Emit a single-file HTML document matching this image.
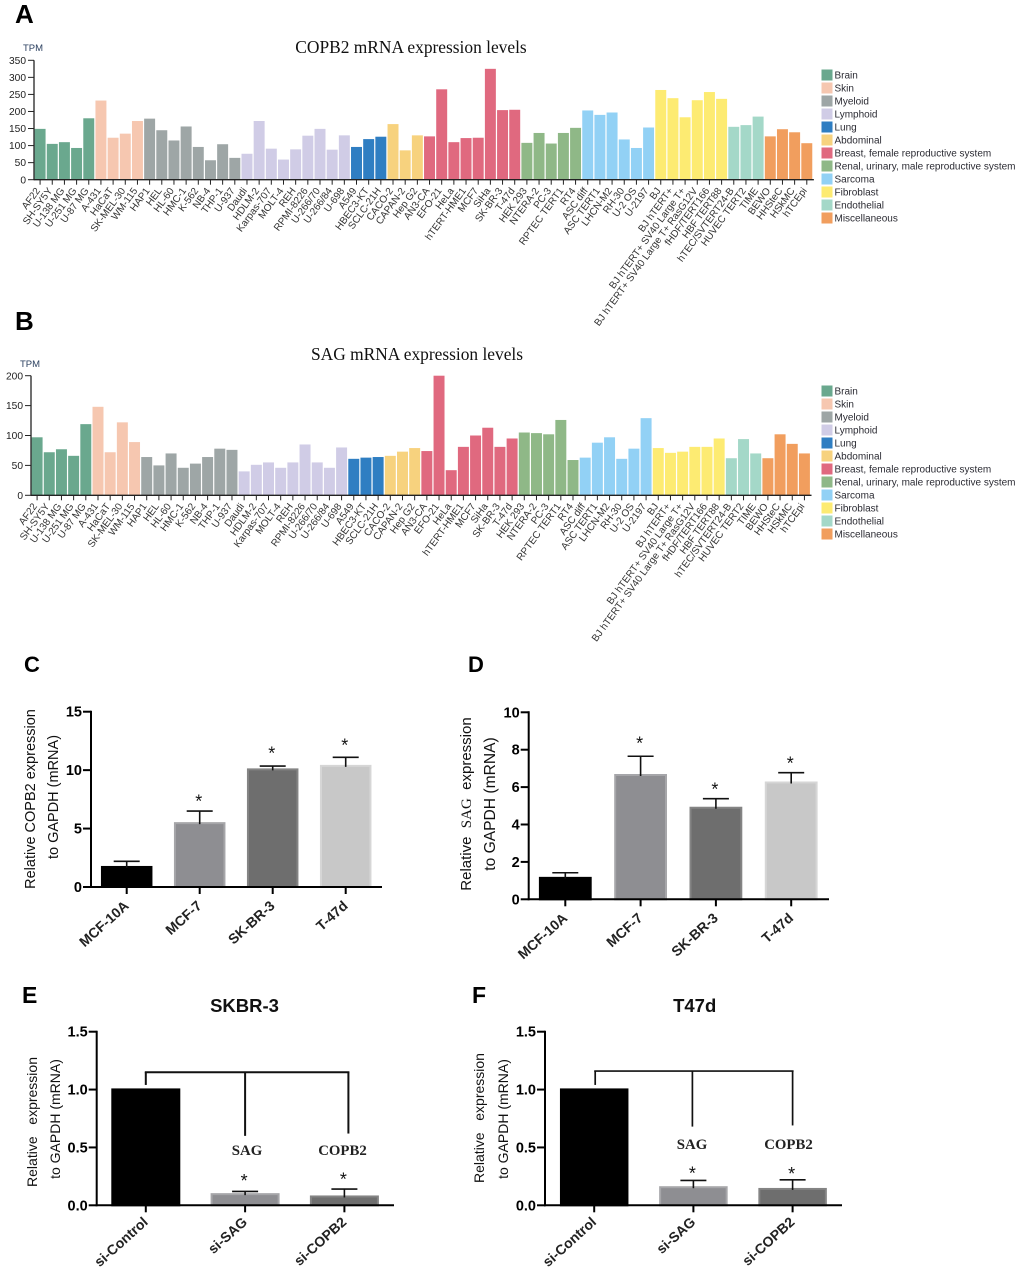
<!DOCTYPE html>
<html lang="en">
<head>
<meta charset="utf-8">
<title>COPB2 and SAG expression figure</title>
<style>
html,body{margin:0;padding:0;background:#fff;}
#figure{display:block;width:1020px;height:1269px;font-family:"Liberation Sans",sans-serif;}
.soft{filter:blur(0.35px);}
</style>
</head>
<body>
<svg id="figure" xmlns="http://www.w3.org/2000/svg" width="1020" height="1269" viewBox="0 0 1020 1269"></svg>
<script>
// ---------- Panels A / B data ----------
const cellLines = ["AF22","SH-SY5Y","U-138 MG","U-251 MG","U-87 MG","A-431","HaCaT","SK-MEL-30","WM-115","HAP1","HEL","HL-60","HMC-1","K-562","NB-4","THP-1","U-937","Daudi","HDLM-2","Karpas-707","MOLT-4","REH","RPMI-8226","U-266/70","U-266/84","U-698","A549","HBEC3-KT","SCLC-21H","CACO-2","CAPAN-2","Hep G2","AN3-CA","EFO-21","HeLa","hTERT-HME1","MCF7","SiHa","SK-BR-3","T-47d","HEK 293","NTERA-2","PC-3","RPTEC TERT1","RT4","ASC diff","ASC TERT1","LHCN-M2","RH-30","U-2 OS","U-2197","BJ","BJ hTERT+","BJ hTERT+ SV40 Large T+","BJ hTERT+ SV40 Large T+ RasG12V","fHDF/TERT166","HBF TERT88","hTEC/SVTERT24-B","HUVEC TERT2","TIME","BEWO","HHSteC","HSkMC","hTCEpi"];
const tissues = ["Brain","Skin","Myeloid","Lymphoid","Lung","Abdominal","Breast, female reproductive system","Renal, urinary, male reproductive system","Sarcoma","Fibroblast","Endothelial","Miscellaneous"];
const tissueCounts = [5,4,8,9,3,3,8,5,6,6,3,4];
const copb2Values = [149,105,110,93,180,232,123,135,172,179,145,115,156,96,57,104,64,76,172,91,59,89,129,149,88,130,96,119,126,163,86,130,127,265,110,122,123,325,204,205,108,137,106,137,152,203,190,197,118,93,153,263,239,183,233,257,237,155,160,185,127,148,139,107];
const sagValues = [97,72,77,66,119,148,72,122,89,64,50,70,46,53,64,78,76,40,51,55,46,55,85,55,46,80,61,63,64,66,73,79,74,200,42,81,100,113,81,95,105,104,102,126,59,63,88,97,61,78,129,79,71,73,81,81,95,62,94,70,62,102,86,70];
const copb2Ticks = [0,50,100,150,200,250,300,350];
const sagTicks = [0,50,100,150,200];

// ---------- Panels C-F data ----------
const cCategories = ["MCF-10A","MCF-7","SK-BR-3","T-47d"];
const cValues = [1.8,5.55,10.15,10.45];
const cErrorTops = [2.2,6.5,10.35,11.1];
const cStarLevels = [null,7.7,11.8,12.5];
const cTicks = [0,5,10,15];
const dCategories = ["MCF-10A","MCF-7","SK-BR-3","T-47d"];
const dValues = [1.2,6.7,4.95,6.3];
const dErrorTops = [1.42,7.65,5.38,6.77];
const dStarLevels = [null,8.57,6.11,7.5];
const dTicks = [0,2,4,6,8,10];
const eCategories = ["si-Control","si-SAG","si-COPB2"];
const eValues = [1.01,0.105,0.085];
const eErrorTops = [1.01,0.12,0.14];
const eStarLevels = [null,0.247,0.26];
const eTicks = ["0.0","0.5","1.0","1.5"];
const fCategories = ["si-Control","si-SAG","si-COPB2"];
const fValues = [1.01,0.165,0.15];
const fErrorTops = [1.01,0.215,0.22];
const fStarLevels = [null,0.314,0.31];
const fTicks = ["0.0","0.5","1.0","1.5"];

const tissueColors = ["#6aa88e","#f6c7b0","#9ea6a6","#d0cce6","#2f7ec2","#f7d27e","#e0697f","#8fb887","#92d1f5","#fdeb72","#a4d8c8","#f19e5e"];
const greyFills = ["#000000","#8e8e92","#6e6e6e","#c8c8c8"];
const greyEdges = ["#000000","#a6a6a9","#848484","#d6d6d6"];

const NS = "http://www.w3.org/2000/svg";
const root = document.getElementById("figure");

function mk(parent, tag, attrs, text) {
  const el = document.createElementNS(NS, tag);
  for (const k in attrs) el.setAttribute(k, attrs[k]);
  if (text !== undefined) el.textContent = text;
  parent.appendChild(el);
  return el;
}
function slug(s) {
  return String(s).toLowerCase().replace(/[^a-z0-9]+/g, '-').replace(/^-|-$/g, '');
}

// Panel letters
[["A",15,23,26],["B",15,330,26],["C",24,672,22],["D",468,672,22],["E",22,1003,23],["F",472,1003,23]].forEach(function (p) {
  const t = mk(root, "text", {x:p[1], y:p[2], "font-size":p[3], "font-weight":"bold", fill:"#000"}, p[0]);
  
  
});

function tpmChart(o) {
  const g = mk(root, "g", {"class":"soft"});
  
  
  const y = function (v) { return o.zeroY - (v / o.maxV) * (o.zeroY - o.topY); };
  const x = function (i) { return o.axisX + (i + 0.5) * o.step; };

  const title = mk(g, "text", {x:o.titleX, y:o.titleY, "text-anchor":"middle", "font-size":17.4, "font-family":'"Liberation Serif",serif', fill:"#111"}, o.title);
  
  
  const unit = mk(g, "text", {x:o.tpmX, y:o.tpmY, "font-size":9.5, fill:"#2a3f5f"}, "TPM");
  
  

  // bars
  let idx = 0;
  tissueCounts.forEach(function (count, ti) {
    for (let c = 0; c < count; c++, idx++) {
      const v = o.values[idx];
      const bar = mk(g, "rect", {x:(x(idx) - o.step / 2 + 0.6).toFixed(2), y:y(v).toFixed(2), width:(o.step - 1.2).toFixed(2), height:(o.zeroY - y(v)).toFixed(2), fill:tissueColors[ti]});
      
      
    }
  });

  // axes
  const yAxis = mk(g, "line", {x1:o.axisX, x2:o.axisX, y1:o.topY, y2:o.zeroY + 0.5, stroke:"#222", "stroke-width":1.3});
  
  
  const xAxis = mk(g, "line", {x1:o.axisX, x2:o.axisX + o.step * cellLines.length + 1, y1:o.zeroY, y2:o.zeroY, stroke:"#222", "stroke-width":1.3});
  
  

  o.ticks.forEach(function (t) {
    const ln = mk(g, "line", {x1:o.axisX - 6, x2:o.axisX, y1:y(t), y2:y(t), stroke:"#222", "stroke-width":1});
    
    
    const lb = mk(g, "text", {x:o.axisX - 8, y:y(t) + 3.6, "text-anchor":"end", "font-size":10.2, fill:"#222"}, t);
    
    
  });
  cellLines.forEach(function (name, i) {
    const ln = mk(g, "line", {x1:x(i), x2:x(i), y1:o.zeroY, y2:o.zeroY + 5, stroke:"#222", "stroke-width":1});
    
    
    const px = x(i) + 0.5, py = o.zeroY + 11;
    const lb = mk(g, "text", {x:px, y:py, "text-anchor":"end", "font-size":10, fill:"#333", transform:"rotate(-54 " + px + " " + py + ")"}, name);
    
    
  });

  // legend
  tissues.forEach(function (name, i) {
    const ly = o.legendY + i * 13;
    const entry = mk(g, "g", {});
    
    
    mk(entry, "rect", {x:821.5, y:ly - 5.5, width:11, height:11, fill:tissueColors[i]});
    mk(entry, "text", {x:834.5, y:ly + 3.4, "font-size":10, fill:"#2b2b33"}, name);
  });
}

tpmChart({id:"copb2", title:"COPB2 mRNA expression levels", titleX:411, titleY:53, tpmX:23, tpmY:51, axisX:34, topY:60.3, zeroY:179.7, maxV:350, step:12.17, values:copb2Values, ticks:copb2Ticks, legendY:75});
tpmChart({id:"sag", title:"SAG mRNA expression levels", titleX:417, titleY:360, tpmX:20, tpmY:367, axisX:31, topY:375.7, zeroY:495.3, maxV:200, step:12.18, values:sagValues, ticks:sagTicks, legendY:391});

function barChart(o) {
  const g = mk(root, "g", {});
  
  
  const y = function (v) { return o.zeroY - (v / o.maxV) * (o.zeroY - o.topY); };
  const x = function (i) { return o.firstX + i * o.pitch; };
  const sw = 2;

  // y-axis title (two lines)
  o.yTitle.forEach(function (line, li) {
    const px = line.x, py = line.y;
    const t = mk(g, "text", {x:px, y:py, "text-anchor":"middle", "font-size":line.size, fill:"#111", transform:"rotate(-90 " + px + " " + py + ")"});
    
    
    t.style.whiteSpace = 'pre';
    line.parts.forEach(function (part) {
      mk(t, "tspan", part.serif ? {"font-family":'"Liberation Serif",serif'} : {}, part.text);
    });
  });

  // bars, error bars and significance stars
  o.categories.forEach(function (name, i) {
    const v = o.values[i], top = y(v), w = o.barW;
    const bar = mk(g, "rect", {x:(x(i) - w / 2 + 1).toFixed(2), y:(top + 1).toFixed(2), width:(w - 2).toFixed(2), height:(o.zeroY - top - 1).toFixed(2), fill:greyFills[i], stroke:greyEdges[i], "stroke-width":2});
    
    
    const e = o.errorTops[i];
    if (e > v) {
      const ey = y(e);
      const stem = mk(g, "line", {x1:x(i), x2:x(i), y1:ey, y2:top + 2, stroke:"#111", "stroke-width":1.6});
      
      
      const cap = mk(g, "line", {x1:x(i) - o.capW / 2, x2:x(i) + o.capW / 2, y1:ey, y2:ey, stroke:"#111", "stroke-width":1.6});
      
      
    }
    if (o.starLevels[i] !== null) {
      const star = mk(g, "text", {x:x(i) - 1, y:(y(o.starLevels[i]) + 10.5).toFixed(2), "text-anchor":"middle", "font-size":18, fill:"#111"}, "*");
      
      
    }
  });

  // axes
  const yAxis = mk(g, "line", {x1:o.axisX, x2:o.axisX, y1:o.topY - 1, y2:o.zeroY + 1, stroke:"#000", "stroke-width":sw});
  
  
  const xAxis = mk(g, "line", {x1:o.axisX - 1, x2:o.rightX, y1:o.zeroY, y2:o.zeroY, stroke:"#000", "stroke-width":sw});
  
  

  o.ticks.forEach(function (t) {
    const ty = y(parseFloat(t));
    const ln = mk(g, "line", {x1:o.axisX - 8, x2:o.axisX, y1:ty, y2:ty, stroke:"#000", "stroke-width":sw});
    
    
    const lb = mk(g, "text", {x:o.axisX - 9, y:ty + 5, "text-anchor":"end", "font-size":14.5, "font-weight":"bold", fill:"#000"}, t);
    
    
  });
  o.categories.forEach(function (name, i) {
    const ln = mk(g, "line", {x1:x(i), x2:x(i), y1:o.zeroY, y2:o.zeroY + 7, stroke:"#000", "stroke-width":sw});
    
    
    const px = x(i) + 3, py = o.zeroY + o.xLabelDy;
    const lb = mk(g, "text", {x:px, y:py, "text-anchor":"end", "font-size":14, "font-weight":"bold", fill:"#222", transform:"rotate(-42 " + px + " " + py + ")"}, name);
    
    
  });

  if (o.chartTitle) {
    const t = mk(g, "text", {x:o.chartTitle.x, y:1012, "text-anchor":"middle", "font-size":18.5, "font-weight":"bold", fill:"#111"}, o.chartTitle.text);
    
    
  }

  if (o.bracket) {
    const b = o.bracket;
    const br = mk(g, "g", {fill:"none", stroke:"#111", "stroke-width":b.width});
    
    
    const xs = b.offsets.map(function (off, i) { return x(i) + off; });
    mk(br, "line", {x1:xs[0] - 1, x2:xs[2] + 1, y1:y(b.level), y2:y(b.level)});
    xs.forEach(function (px, i) {
      mk(br, "line", {x1:px, x2:px, y1:y(b.level), y2:y(b.ends[i])});
    });
    b.labels.forEach(function (txt, i) {
      const t = mk(g, "text", {x:b.labelX[i], y:b.labelY, "text-anchor":"middle", "font-size":14.8, "font-weight":"bold", "font-family":'"Liberation Serif",serif', fill:"#222"}, txt);
      
      
    });
  }
}

barChart({id:"panel-c", categories:cCategories, values:cValues, errorTops:cErrorTops, starLevels:cStarLevels, ticks:cTicks, axisX:91, rightX:382, topY:711.7, zeroY:887, maxV:15, firstX:126.7, pitch:73, barW:51.5, capW:26, xLabelDy:20,
  yTitle:[{x:35, y:799, size:14.5, parts:[{text:"Relative COPB2 expression"}]},{x:58, y:797, size:14.5, parts:[{text:"to GAPDH (mRNA)"}]}]});
barChart({id:"panel-d", categories:dCategories, values:dValues, errorTops:dErrorTops, starLevels:dStarLevels, ticks:dTicks, axisX:528.7, rightX:829, topY:712.3, zeroY:899.3, maxV:10, firstX:565.3, pitch:75.3, barW:52.8, capW:26, xLabelDy:20,
  yTitle:[{x:471, y:804, size:15, parts:[{text:"Relative  "},{text:"SAG",serif:true},{text:"  expression"}]},{x:495, y:804, size:15.6, parts:[{text:"to GAPDH (mRNA)"}]}]});
barChart({id:"panel-e", categories:eCategories, values:eValues, errorTops:eErrorTops, starLevels:eStarLevels, ticks:eTicks, axisX:96.7, rightX:394, topY:1031.7, zeroY:1205.3, maxV:1.5, firstX:145.8, pitch:99.3, barW:69, capW:26, xLabelDy:18,
  chartTitle:{x:244.5, text:"SKBR-3"},
  bracket:{level:1.15, offsets:[0,0,4], ends:[1.04,0.6,0.62], labels:["SAG","COPB2"], labelX:[247,342.5], labelY:1155, width:2},
  yTitle:[{x:37, y:1122, size:14, parts:[{text:"Relative   expression"}]},{x:60, y:1119, size:14, parts:[{text:"to GAPDH (mRNA)"}]}]});
barChart({id:"panel-f", categories:fCategories, values:fValues, errorTops:fErrorTops, starLevels:fStarLevels, ticks:fTicks, axisX:545, rightX:842, topY:1031.7, zeroY:1205.3, maxV:1.5, firstX:594.2, pitch:99.2, barW:68.5, capW:26, xLabelDy:18,
  chartTitle:{x:694.7, text:"T47d"},
  bracket:{level:1.16, offsets:[1,-1,0], ends:[1.04,0.68,0.69], labels:["SAG","COPB2"], labelX:[692,788.5], labelY:1149, width:1.7},
  yTitle:[{x:484, y:1118, size:14, parts:[{text:"Relative   expression"}]},{x:508, y:1119, size:14, parts:[{text:"to GAPDH (mRNA)"}]}]});
</script>
</body>
</html>
